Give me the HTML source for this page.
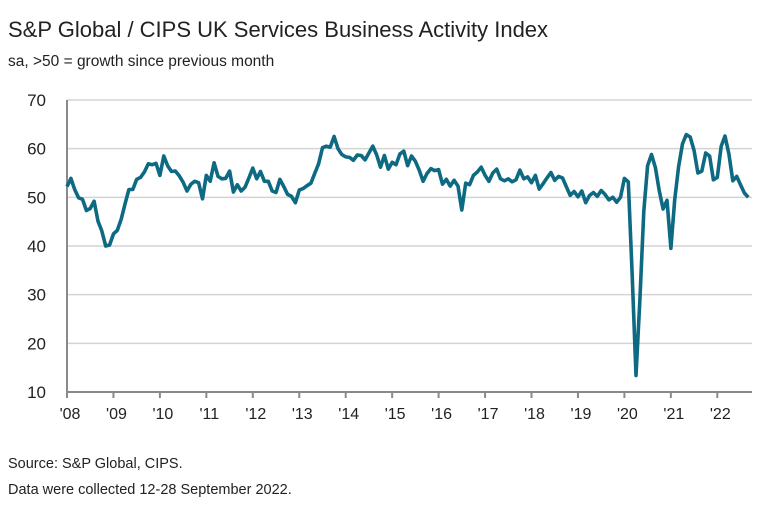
<!DOCTYPE html>
<html><head><meta charset="utf-8"><style>
body{margin:0;background:#fff;font-family:"Liberation Sans",sans-serif;}
svg text{font-family:"Liberation Sans",sans-serif;fill:#222;}
</style></head><body>
<svg id="chart" width="773" height="515">
<text x="8" y="37" font-size="22">S&amp;P Global / CIPS UK Services Business Activity Index</text>
<text x="8" y="66" font-size="15.5">sa, &gt;50 = growth since previous month</text>
<g id="grid"></g><g id="yt"></g><g id="xt"></g>
<path id="line" fill="none" stroke="#0e6a82" stroke-width="3.6" stroke-linejoin="round"></path>
<text x="8" y="468" font-size="14.5">Source: S&amp;P Global, CIPS.</text>
<text x="8" y="494" font-size="14.5">Data were collected 12-28 September 2022.</text>
</svg>
<script>
const yTicks=[10,20,30,40,50,60,70];
const xLabels=["'08","'09","'10","'11","'12","'13","'14","'15","'16","'17","'18","'19","'20","'21","'22"];
const values=[
52.2,53.9,51.6,49.9,49.6,47.3,47.7,49.2,45.1,43.1,40.0,40.2,
42.5,43.2,45.5,48.7,51.6,51.6,53.7,54.1,55.2,56.9,56.7,57.0,
54.5,58.5,56.5,55.3,55.4,54.4,53.1,51.3,52.7,53.3,53.0,49.7,
54.5,53.3,57.1,54.3,53.8,53.9,55.4,51.1,52.6,51.3,52.1,54.0,
56.0,53.8,55.3,53.3,53.3,51.3,51.0,53.7,52.2,50.6,50.2,48.9,
51.5,51.8,52.4,52.9,54.9,56.9,60.2,60.5,60.3,62.5,60.0,58.8,
58.3,58.2,57.6,58.7,58.6,57.7,59.1,60.5,58.7,56.2,58.6,55.8,
57.2,56.7,58.9,59.5,56.5,58.5,57.4,55.6,53.3,54.9,55.9,55.5,
55.7,52.7,53.7,52.3,53.5,52.3,47.4,52.9,52.6,54.5,55.2,56.2,
54.5,53.3,55.0,55.8,53.8,53.4,53.8,53.2,53.6,55.6,53.8,54.2,
53.0,54.5,51.7,52.8,54.0,55.1,53.5,54.3,54.0,52.2,50.4,51.2,
50.1,51.3,48.9,50.4,51.0,50.2,51.4,50.6,49.5,50.0,49.0,50.0,
53.9,53.2,34.5,13.4,29.0,47.1,56.5,58.8,56.1,51.4,47.6,49.4,
39.5,49.5,56.3,61.0,62.9,62.4,59.6,55.0,55.4,59.1,58.5,53.6,
54.1,60.5,62.6,58.9,53.4,54.3,52.6,50.9,50.0];
const X0=67,YS=46.45,XR=752;
const x=i=>X0+i*YS/12;
const y=v=>392-(v-10)*(292/60);
const NS="http://www.w3.org/2000/svg";
function mk(t,a,p){const e=document.createElementNS(NS,t);for(const k in a)e.setAttribute(k,a[k]);p.appendChild(e);return e;}
const g=document.getElementById('grid'),yt=document.getElementById('yt'),xt=document.getElementById('xt');
yTicks.forEach(v=>{
 if(v>10){const l=mk('line',{x1:X0,x2:XR,y1:y(v),y2:y(v),stroke:'#d4d4d4','stroke-width':1.5},g);
 
 }
 const t=mk('text',{x:46,y:y(v)+6,'font-size':17,'text-anchor':'end'},yt);t.textContent=v;
 
 
});
const ax=mk('line',{x1:X0,x2:X0,y1:y(70),y2:393,stroke:'#8a8a8a','stroke-width':2},g);


const bx=mk('line',{x1:X0-1,x2:XR,y1:392,y2:392,stroke:'#8a8a8a','stroke-width':2},g);


xLabels.forEach((s,i)=>{
 const xx=x(i*12);
 const tk=mk('line',{x1:xx,x2:xx,y1:392,y2:398,stroke:'#8a8a8a','stroke-width':2},xt);
 
 
 const t=mk('text',{x:xx+3,y:419,'font-size':16,'text-anchor':'middle'},xt);t.textContent=s;
 
 
});
document.getElementById('line').setAttribute('d',values.map((v,i)=>(i?'L':'M')+x(i).toFixed(1)+','+y(v).toFixed(1)).join(''));
</script>
</body></html>
